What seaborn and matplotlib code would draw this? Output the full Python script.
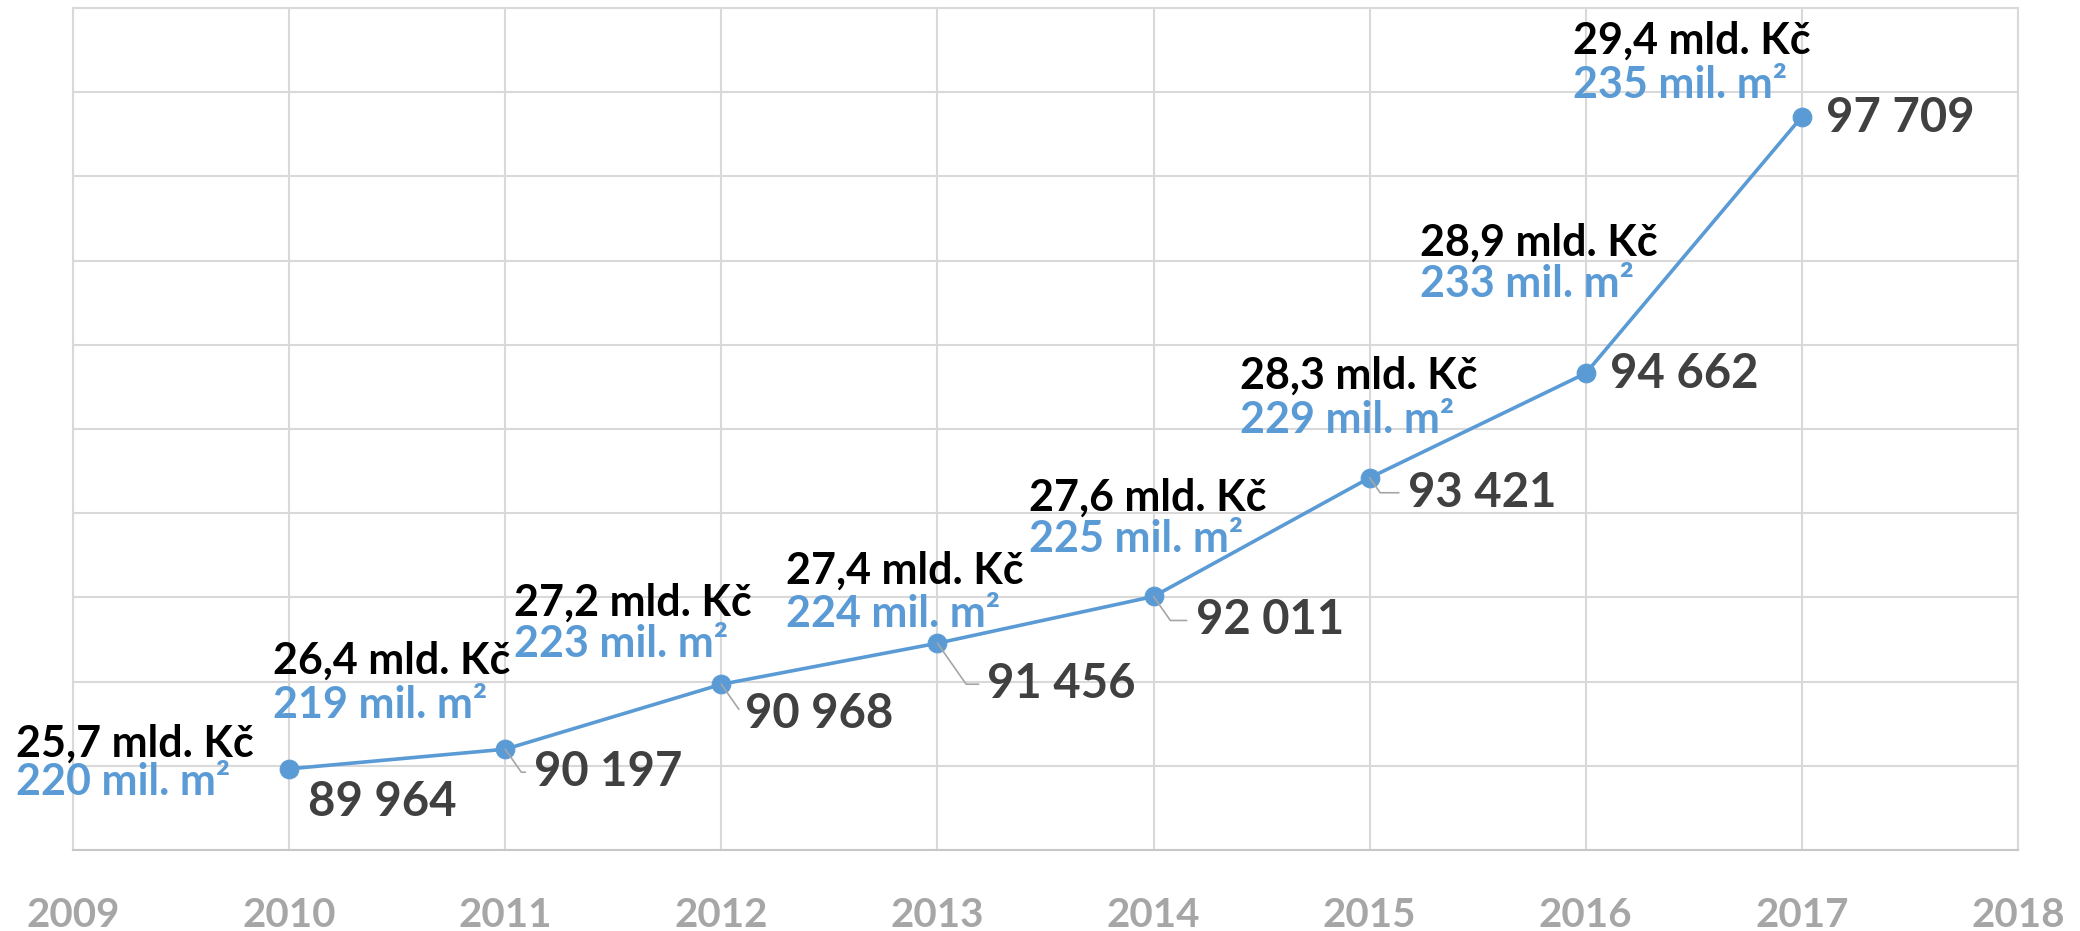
import matplotlib
matplotlib.use("Agg")
import matplotlib.pyplot as plt
import seaborn as sns
import pandas as pd

years = [2010, 2011, 2012, 2013, 2014, 2015, 2016, 2017]
values = [89964, 90197, 90968, 91456, 92011, 93421, 94662, 97709]
value_labels = ["89 964", "90 197", "90 968", "91 456", "92 011", "93 421", "94 662", "97 709"]
money_labels = ["25,7 mld. Kč", "26,4 mld. Kč", "27,2 mld. Kč", "27,4 mld. Kč",
                "27,6 mld. Kč", "28,3 mld. Kč", "28,9 mld. Kč", "29,4 mld. Kč"]
area_labels = ["220 mil. m²", "219 mil. m²", "223 mil. m²", "224 mil. m²",
               "225 mil. m²", "229 mil. m²", "233 mil. m²", "235 mil. m²"]
x_ticks = list(range(2009, 2019))

# label placement (pixel offsets from each point)
value_off = [(19, -33), (29, -23), (24, -30), (50, -41), (42, -24), (38, -15), (24, -1), (24, -1)]
leader = [False, True, True, True, True, True, False, False]
text_dx = [-273, -232, -207, -151, -125, -130, -166, -229]
money_dy = [25, 89, 82, 73, 99, 102, 131, 76]
area_dy = [-13, 44, 40, 29, 57, 58, 89, 32]

blue = "#5B9BD5"
grid = "#D9D9D9"

sns.set_style("whitegrid")
plt.rcParams["font.family"] = ["Lato", "DejaVu Sans"]

df = pd.DataFrame({"year": years, "value": values})

fig = plt.figure(figsize=(20.8, 9.31), dpi=100)
ax = fig.add_axes([73 / 2080, 1 - 850 / 931, (2018 - 73) / 2080, (850 - 8) / 931])

sns.lineplot(data=df, x="year", y="value", ax=ax, color=blue, linewidth=2.6,
             marker="o", markersize=13.5, markeredgecolor=blue)

ax.set_xlim(2009, 2018)
ax.set_ylim(89000, 99000)
ax.set_xticks(x_ticks)
ax.set_xticklabels([str(t) for t in x_ticks], fontsize=29, fontweight="bold", color="#A6A6A6")
ax.set_yticks(range(89000, 99001, 1000))
ax.set_yticklabels([])
ax.tick_params(axis="x", length=0, pad=34)
ax.tick_params(axis="y", length=0)
ax.set_xlabel("")
ax.set_ylabel("")
ax.grid(True, color=grid, linewidth=1.5)
for s in ax.spines.values():
    s.set_color(grid)
    s.set_linewidth(1.5)
ax.spines["bottom"].set_color("#C8C8C8")

for i, (yr, v) in enumerate(zip(years, values)):
    dx, dy = value_off[i]
    kw = {}
    if leader[i]:
        kw["arrowprops"] = dict(arrowstyle="-", color="#A6A6A6", lw=1.2, relpos=(0, 0.5),
                                shrinkA=4, shrinkB=0,
                                connectionstyle="angle,angleA=0,angleB=-55,rad=0")
    ax.annotate(value_labels[i], (yr, v), xytext=(dx, dy), textcoords="offset pixels",
                ha="left", va="center", fontsize=34, fontweight="bold", color="#404040",
                annotation_clip=False, **kw)
    ax.annotate(money_labels[i], (yr, v), xytext=(text_dx[i], money_dy[i]),
                textcoords="offset pixels", ha="left", va="center", fontsize=31,
                fontweight="bold", color="black", annotation_clip=False)
    ax.annotate(area_labels[i], (yr, v), xytext=(text_dx[i], area_dy[i]),
                textcoords="offset pixels", ha="left", va="center", fontsize=31,
                fontweight="bold", color=blue, annotation_clip=False)

fig.savefig("out.png", dpi=100)
